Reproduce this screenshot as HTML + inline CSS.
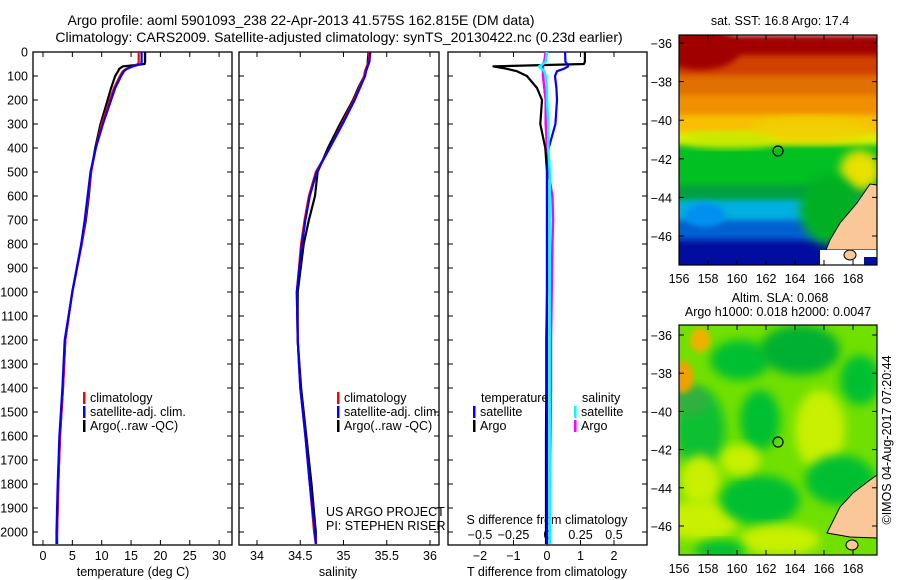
<!DOCTYPE html>
<html><head><meta charset="utf-8">
<style>
body{margin:0;background:#fff;width:900px;height:580px;overflow:hidden;font-family:"Liberation Sans",sans-serif}
svg{position:absolute;left:0;top:0}
text{font-family:"Liberation Sans",sans-serif;font-size:12.5px;fill:#000}
</style></head><body>
<svg id="c" width="900" height="580">
<defs>
<filter id="bl" x="-20%" y="-20%" width="140%" height="140%"><feGaussianBlur stdDeviation="5"/></filter>
<filter id="bl2" x="-20%" y="-20%" width="140%" height="140%"><feGaussianBlur stdDeviation="3"/></filter>
<clipPath id="cm1"><rect x="679" y="35" width="198" height="230"/></clipPath>
<clipPath id="cm2"><rect x="679" y="325" width="198" height="230"/></clipPath>
</defs>
<text x="301" y="25" text-anchor="middle" style="font-size:14px">Argo profile: aoml 5901093_238 22-Apr-2013 41.575S 162.815E (DM data)</text>
<text x="339" y="42" text-anchor="middle" style="font-size:14px">Climatology: CARS2009. Satellite-adjusted climatology: synTS_20130422.nc (0.23d earlier)</text>
<g id="g"></g>
</svg>
<script>
// depth levels (m)
const depths=[0,40,50,60,70,80,100,150,200,300,400,500,600,700,800,1000,1200,1400,1600,1800,2000,2050];
const tempClim=[16.3,16.3,16.2,15.2,14.2,13.6,13.1,12.1,11.4,10.0,9.0,8.2,7.7,7.2,6.6,5.0,3.8,3.4,2.9,2.6,2.4,2.3];
const tempSat =[16.8,16.8,16.7,15.3,14.3,13.8,13.3,12.3,11.6,10.2,9.0,8.1,7.6,7.1,6.5,5.0,3.7,3.3,2.8,2.5,2.3,2.3];
const tempArgo=[17.4,17.4,17.3,13.6,13.0,12.8,12.3,11.6,11.0,9.8,8.9,8.2,7.8,7.3,6.6,5.0,3.8,3.4,2.9,2.6,2.4,2.4];
const salClim=[35.30,35.29,35.28,35.27,35.26,35.25,35.24,35.18,35.12,34.98,34.84,34.68,34.60,34.55,34.51,34.46,34.47,34.50,34.56,34.61,34.66,34.68];
const salSat =[35.31,35.30,35.29,35.28,35.27,35.26,35.25,35.19,35.13,34.99,34.84,34.69,34.61,34.56,34.52,34.46,34.47,34.50,34.56,34.61,34.67,34.68];
const salArgo=[35.29,35.28,35.28,35.27,35.26,35.25,35.24,35.17,35.11,34.96,34.82,34.70,34.67,34.60,34.54,34.47,34.47,34.51,34.57,34.63,34.68,34.68];
const dT_sat =[0.54,0.55,0.6,0.63,0.5,0.3,0.24,0.28,0.3,0.25,0.05,0.0,0.0,0.0,0.0,0.0,0.0,0.0,0.0,0.0,0.0,0.0];
const dT_argo=[1.13,1.13,1.1,-1.6,-1.2,-0.9,-0.6,-0.3,-0.15,-0.2,-0.05,0.0,0.0,0.0,0.0,0.0,-0.02,-0.02,-0.03,-0.03,-0.03,-0.03];
const dS_sat =[0.0,-0.01,-0.03,-0.06,-0.04,-0.02,-0.01,0.0,0.0,0.01,0.01,0.02,0.02,0.02,0.02,0.02,0.02,0.02,0.02,0.02,0.02,0.02];
const dS_argo=[-0.01,-0.02,-0.03,-0.03,-0.03,-0.03,-0.03,-0.02,-0.01,-0.01,0.0,0.01,0.04,0.045,0.04,0.035,0.03,0.03,0.025,0.02,0.02,0.02];
const depthTicks=[0,100,200,300,400,500,600,700,800,900,1000,1100,1200,1300,1400,1500,1600,1700,1800,1900,2000];
const tempTicks=[0,5,10,15,20,25,30];
const salTicks=[34,34.5,35,35.5,36];
const dTTicks=[-2,-1,0,1,2];
const dSTicks=[-0.5,-0.25,0,0.25,0.5];
const latTicks=[-36,-38,-40,-42,-44,-46];
const lonTicks=[156,158,160,162,164,166,168];

const NS='http://www.w3.org/2000/svg';
const G=document.getElementById('g');
function el(t,a,p){const e=document.createElementNS(NS,t);for(const k in a)e.setAttribute(k,a[k]);(p||G).appendChild(e);return e;}
const Y=d=>52+d*0.24;
const xT=v=>43+v*5.87, xS=v=>257+(v-34)*86.5, xDT=v=>547+v*33.5, xDS=v=>547+v*134;

function panel(x0,x1,name){
 const r=el('rect',{x:x0,y:52,width:x1-x0,height:493,fill:'none',stroke:'#000','stroke-width':1.3});
 
 
}
panel(33,232,'temperature-panel');panel(239,439,'salinity-panel');panel(448,647,'difference-panel');
depthTicks.forEach(d=>{
 const t=el('text',{x:28,y:Y(d)+4.5,'text-anchor':'end'});t.textContent=d;
 
 
 [[33,38],[227,232],[239,244],[434,439],[448,453],[642,647]].forEach(p=>el('line',{x1:p[0],x2:p[1],y1:Y(d),y2:Y(d),stroke:'#000'}));
});
function xticks(arr,fx,ly,top,fmt){
 arr.forEach(v=>{const x=fx(v);
  el('line',{x1:x,x2:x,y1:545,y2:540,stroke:'#000'});
  if(top)el('line',{x1:x,x2:x,y1:52,y2:57,stroke:'#000'});
  const t=el('text',{x:x,y:ly,'text-anchor':'middle'});t.textContent=fmt?fmt(v):v;
  
  
 });
}
xticks(tempTicks,xT,560,true);
xticks(salTicks,xS,560,true);
xticks(dTTicks,xDT,560,true,v=>v<0?'\u2212'+(-v):v);
dSTicks.forEach(v=>{const x=xDS(v);el('line',{x1:x,x2:x,y1:545,y2:540,stroke:'#000'});
 const t=el('text',{x:x,y:539,'text-anchor':'middle'});t.textContent=v<0?'\u2212'+(-v):v;
 
 });
function lab(x,y,s,name,anchor,col){const t=el('text',{x:x,y:y,'text-anchor':anchor||'middle'});t.textContent=s;if(col)t.setAttribute('fill',col);
 
 return t;}
lab(133,576,'temperature (deg C)','temperature-axis-title');
lab(338,576,'salinity','salinity-axis-title');
lab(547,576,'T difference from climatology','t-diff-axis-title');
lab(547,524,'S difference from climatology','s-diff-axis-title');
lab(326,516,'US ARGO PROJECT','project-label','start');
lab(326,530,'PI: STEPHEN RISER','pi-label','start');

function line(vals,fx,col,w,name){
 const pts=depths.map((d,i)=>fx(vals[i]).toFixed(1)+','+Y(d).toFixed(1)).join(' ');
 const p=el('polyline',{points:pts,fill:'none',stroke:col,'stroke-width':w,'stroke-linejoin':'round'});
 
 
}
line(tempArgo,xT,'#000',2.2,'temp-argo-line');line(tempClim,xT,'#f00',2.2,'temp-clim-line');line(tempSat,xT,'#00f',2.2,'temp-sat-line');
line(salArgo,xS,'#000',2.2,'sal-argo-line');line(salClim,xS,'#f00',2.2,'sal-clim-line');line(salSat,xS,'#00f',2.2,'sal-sat-line');
line(dS_argo,xDS,'#f0f',2.5,'sdiff-argo-line');line(dT_argo,xDT,'#000',2.2,'tdiff-argo-line');line(dT_sat,xDT,'#00f',2.2,'tdiff-sat-line');line(dS_sat,xDS,'#0ff',2.5,'sdiff-sat-line');

function legend(x,y,items){items.forEach((it,i)=>{
 el('rect',{x:x,y:y+i*14-10,width:2.5,height:12,fill:it[1]});
 lab(x+7,y+i*14,it[0],'legend-entry','start');});}
legend(83,402,[['climatology','#f00'],['satellite-adj. clim.','#00f'],['Argo(..raw -QC)','#000']]);
legend(337,402,[['climatology','#f00'],['satellite-adj. clim.','#00f'],['Argo(..raw -QC)','#000']]);
lab(481,402,'temperature','legend-heading','start');lab(582,402,'salinity','legend-heading','start');
legend(473,416,[['satellite','#00f'],['Argo','#000']]);
legend(574,416,[['satellite','#0ff'],['Argo','#f0f']]);

const lonX=v=>679+(v-156)*14.5;
function map(y0,latY,clip,name,bgFn){
 const g=el('g',{'clip-path':'url(#'+clip+')'});
 
 
 bgFn(g);
 el('rect',{x:679,y:y0,width:198,height:230,fill:'none',stroke:'#000','stroke-width':1.2});
 latTicks.forEach(v=>{const y=latY(v);el('line',{x1:679,x2:684,y1:y,y2:y,stroke:'#000'});el('line',{x1:872,x2:877,y1:y,y2:y,stroke:'#000'});
  lab(672,y+5,'\u2212'+(-v),'lat-tick-label','end');});
 lonTicks.forEach(v=>{const x=lonX(v);el('line',{x1:x,x2:x,y1:y0+230,y2:y0+225,stroke:'#000'});el('line',{x1:x,x2:x,y1:y0,y2:y0+5,stroke:'#000'});
  lab(x,y0+248,v,'lon-tick-label');});
}
const lat1=v=>43+(-36-v)*19.3, lat2=v=>335+(-36-v)*19.1;
map(35,lat1,'cm1','sst-map',g=>{
 const bands=[[35,'#a00000',20],[55,'#d04000',25],[75,'#e07000',25],[95,'#f09000',20],[115,'#f8c000',18],[133,'#d8f000',12],[145,'#00c020',40],[185,'#00a040',15],[200,'#00b0e0',20],[220,'#0060d0',20],[240,'#0010a0',30]];
 bands.forEach(b=>el('rect',{x:660,y:b[0],width:240,height:b[2]+10,fill:b[1],filter:'url(#bl2)'},g));
 el('ellipse',{cx:700,cy:50,rx:40,ry:20,fill:'#a00000',filter:'url(#bl2)'},g);
 el('ellipse',{cx:810,cy:130,rx:60,ry:12,fill:'#f0d000',filter:'url(#bl)'},g);
 el('ellipse',{cx:730,cy:140,rx:45,ry:8,fill:'#c8e800',filter:'url(#bl)'},g);
 el('ellipse',{cx:860,cy:170,rx:20,ry:20,fill:'#e8e000',filter:'url(#bl)'},g);
 el('ellipse',{cx:830,cy:210,rx:30,ry:35,fill:'#00b020',filter:'url(#bl)'},g);
 el('ellipse',{cx:705,cy:215,rx:20,ry:12,fill:'#0090f0',filter:'url(#bl2)'},g);
 el('polygon',{points:'877,185 870,184 857,203 840,223 830,240 826,250 877,250',fill:'#fac898',stroke:'#000'},g);
 el('rect',{x:820,y:250,width:57,height:15,fill:'#fff'},g);
 el('rect',{x:864,y:257,width:13,height:8,fill:'#0010a0'},g);
 el('ellipse',{cx:850,cy:255,rx:6,ry:5,fill:'#fac898',stroke:'#000'},g);
});
map(325,lat2,'cm2','sla-map',g=>{
 el('rect',{x:679,y:325,width:198,height:230,fill:'#70e000'},g);
 [[700,520,40,20,'#c8f000'],[740,360,30,20,'#00c030'],[800,350,40,25,'#00b030'],[700,430,25,40,'#10c030'],[760,420,20,30,'#00c030'],[820,430,25,40,'#c8f000'],[840,480,35,25,'#00c030'],[700,480,20,25,'#c8f000'],[760,500,40,25,'#00c030'],[860,380,20,25,'#00c030'],[780,540,40,15,'#c8f000'],[690,400,20,15,'#30b040'],[740,460,20,15,'#c8f000'],[720,550,25,10,'#00c030']].forEach(b=>el('ellipse',{cx:b[0],cy:b[1],rx:b[2],ry:b[3],fill:b[4],filter:'url(#bl)'},g));
 el('ellipse',{cx:683,cy:377,rx:10,ry:16,fill:'#f0a000',filter:'url(#bl2)'},g);
 el('ellipse',{cx:700,cy:340,rx:10,ry:12,fill:'#f0b000',filter:'url(#bl2)'},g);
 el('polygon',{points:'877,475 870,480 853,493 840,507 830,527 827,533 850,537 877,538',fill:'#fac898',stroke:'#000'},g);
 el('ellipse',{cx:852,cy:545,rx:6,ry:5,fill:'#fac898',stroke:'#000'},g);
});
[[778,151],[778,442]].forEach(p=>{const c=el('circle',{cx:p[0],cy:p[1],r:5,fill:'none',stroke:'#000','stroke-width':1.2});
 
 });
lab(780,25,'sat. SST: 16.8 Argo: 17.4','sst-map-title');
lab(780,302,'Altim. SLA: 0.068','sla-map-title');
lab(778,316,'Argo h1000: 0.018 h2000: 0.0047','argo-height-label');
const r=lab(0,0,'\u00a9IMOS 04-Aug-2017 07:20:44','imos-timestamp');
r.setAttribute('transform','translate(891,440) rotate(-90)');
</script>
</body></html>
